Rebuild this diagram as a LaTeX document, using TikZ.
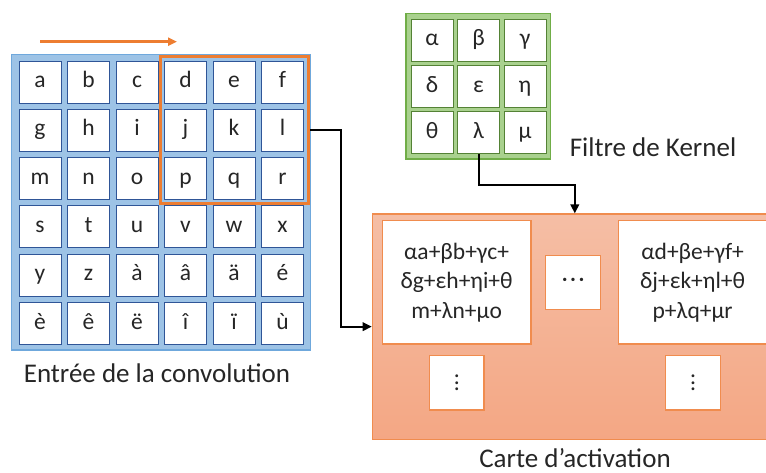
\documentclass[tikz,border=0pt]{standalone}
\usepackage{fontspec}
\setmainfont{Carlito}
\usetikzlibrary{arrows.meta,calc}
\definecolor{bluefill}{HTML}{9DC3E6}
\definecolor{blueedge}{HTML}{6FA8DC}
\definecolor{celledge}{HTML}{2F5597}
\definecolor{orframe}{HTML}{ED7D31}
\definecolor{greenfill}{HTML}{A9D18E}
\definecolor{greenedge}{HTML}{70AD47}
\definecolor{kcelledge}{HTML}{548235}
\definecolor{acttop}{HTML}{F5BEA5}
\definecolor{actbot}{HTML}{F4A784}
\definecolor{actedge}{HTML}{F08C4E}
\definecolor{txt}{HTML}{262626}
\tikzset{
  cell/.style={draw=celledge, line width=0.9pt, fill=white, minimum width=42pt, minimum height=42pt, inner sep=0pt, text=txt, font=\fontsize{23.5}{28}\selectfont},
  kcell/.style={draw=kcelledge, line width=0.9pt, fill=white, minimum width=42pt, minimum height=42pt, inner sep=0pt, text=txt, font=\fontsize{23.5}{28}\selectfont},
  abox/.style={draw=actedge, line width=1.2pt, fill=white, inner sep=0pt, text=txt, align=center, font=\fontsize{23.5}{29.5}\selectfont},
  lbl/.style={text=txt, font=\fontsize{27}{32}\selectfont, inner sep=0pt, anchor=base},
  conn/.style={line width=2pt, -{Triangle[length=9pt,width=8.5pt]}},
}
\begin{document}
\begin{tikzpicture}[x=1pt,y=-1pt]
\useasboundingbox (0,0) rectangle (766,473);
\begin{scope}
\clip (0,0) rectangle (766,473);
% input grid
\node[draw=blueedge, fill=bluefill, line width=1.2pt, minimum width=299pt, minimum height=295.7pt, inner sep=0pt] (inbox) at (161.2,202.15) {};
\foreach \row/\letters [count=\j from 0] in {0/{a,b,c,d,e,f},1/{g,h,i,j,k,l},2/{m,n,o,p,q,r},3/{s,t,u,v,w,x},4/{y,z,à,â,ä,é},5/{è,ê,ë,î,ï,ù}}{
  \foreach \L [count=\i from 0] in \letters {
    \node[cell] (c\i\j) at (40+48.5*\i, 82+48.3*\j) {\strut\L};
  }
}
\node[draw=orframe, line width=3pt, minimum width=147.6pt, minimum height=147.3pt, inner sep=0pt] (frame) at (234.5,130.35) {};
\coordinate (slideA) at (40,41.7);
\coordinate (slideB) at (177,41.7);
\draw[orframe, line width=2.5pt, -{Triangle[length=9pt,width=8pt]}] (slideA) -- (slideB);
\node[lbl] (inlbl) at (157,382.5) {Entrée de la convolution};
% kernel
\node[draw=greenedge, fill=greenfill, line width=1.2pt, minimum width=144.7pt, minimum height=145.7pt, inner sep=0pt] (kbox) at (478.35,86.15) {};
\foreach \letters [count=\j from 0] in {{α,β,γ},{δ,ε,η},{θ,λ,μ}}{
  \foreach \L [count=\i from 0] in \letters {
    \node[kcell] (k\i\j) at (432+46.5*\i, 40.3+46.3*\j) {\strut\L};
  }
}
\node[lbl] (klbl) at (653,156.5) {Filtre de Kernel};
% activation map
\node[draw=actedge, line width=1.2pt, top color=acttop, bottom color=actbot, minimum width=405pt, minimum height=225.3pt, inner sep=0pt] (act) at (574.8,326.65) {};
\node[abox, minimum width=148.7pt, minimum height=123.3pt] (a1) at (456.65,282.35) {αa+βb+γc+\\δg+εh+ηi+θ\\m+λn+μo};
\node[abox, minimum width=148.7pt, minimum height=123.3pt] (a2) at (692.65,282.35) {αd+βe+γf+\\δj+εk+ηl+θ\\p+λq+μr};
\node[abox, minimum width=55pt, minimum height=53.6pt] (ah) at (573.2,282.5) {·\kern2.5pt·\kern2.5pt·};
\node[abox, minimum width=54.3pt, minimum height=54.3pt] (av1) at (456.85,382.85) {\vbox{\baselineskip=6.5pt\hbox{.}\hbox{.}\hbox{.}}};
\node[abox, minimum width=54.6pt, minimum height=54.3pt] (av2) at (693,382.85) {\vbox{\baselineskip=6.5pt\hbox{.}\hbox{.}\hbox{.}}};
\node[lbl] (albl) at (575,467.5) {Carte d’activation};
% connectors
\draw[conn] (frame.east |- c51) -- ++(31.5,0) |- (act.west);
\draw[conn] (k12.south) -- ++(0,31) -| (act.north);
\end{scope}
\end{tikzpicture}
\end{document}
